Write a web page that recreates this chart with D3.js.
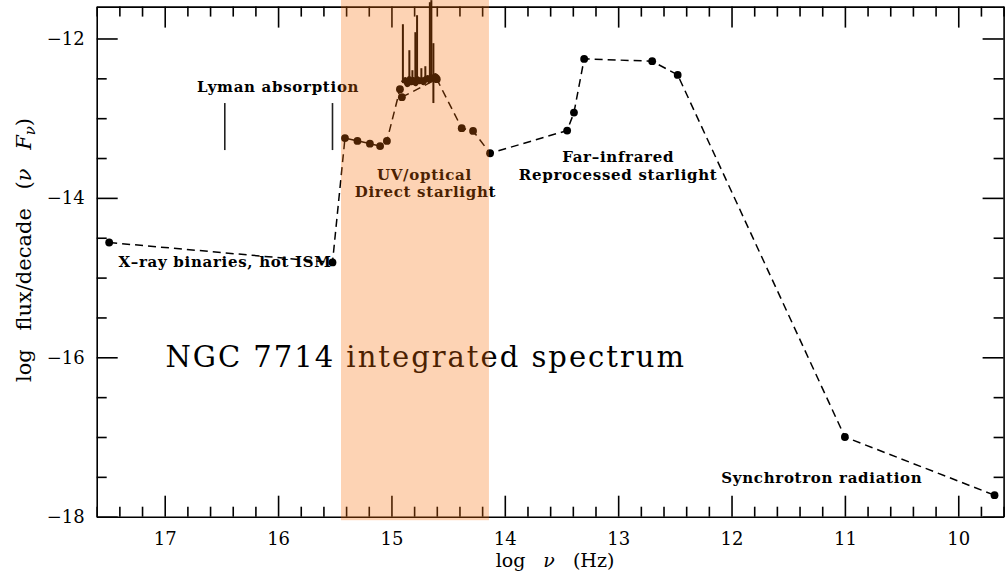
<!DOCTYPE html>
<html>
<head>
<meta charset="utf-8">
<script src="https://cdn.jsdelivr.net/npm/d3@7"></script>
<style>
  html, body { margin: 0; padding: 0; background: #fff; }
  svg { display: block; }
</style>
</head>
<body>
<svg id="chart" width="1006" height="576"></svg>
<script>
// Broad-band SED of NGC 7714: log frequency (Hz) and log flux per decade
const sedLogNu   = [17.49, 15.52, 15.41, 15.30, 15.19, 15.10, 15.04, 14.925, 14.908, 14.60, 14.38, 14.28, 14.13, 13.45, 13.39, 13.30, 12.70, 12.475, 11.00, 9.68];
const sedLogFlux = [-14.56, -14.81, -13.25, -13.285, -13.32, -13.35, -13.285, -12.637, -12.737, -12.51, -13.125, -13.16, -13.44, -13.155, -12.93, -12.256, -12.285, -12.457, -17.00, -17.73];

// Optical spectrum continuum
const specLogNu   = [14.894, 14.877, 14.859, 14.841, 14.824, 14.806, 14.788, 14.771, 14.753, 14.735, 14.718, 14.700, 14.682, 14.665, 14.647, 14.629, 14.612, 14.594];
const specLogFlux = [-12.561, -12.523, -12.573, -12.511, -12.548, -12.523, -12.561, -12.511, -12.536, -12.523, -12.548, -12.511, -12.498, -12.523, -12.486, -12.511, -12.473, -12.498];

// Emission lines in the optical spectrum (low and high end of each line)
const lineLogNu = [14.899, 14.842, 14.815, 14.789, 14.774, 14.736, 14.701, 14.661, 14.648, 14.630];
const lineLow   = [-12.56, -12.53, -12.55, -12.55, -12.53, -12.54, -12.52, -12.52, -12.50, -12.81];
const lineHigh  = [-11.821, -12.147, -12.398, -11.921, -11.708, -12.373, -12.348, -11.545, -11.519, -12.059];

// Lyman absorption markers
const lymanLogNu = [16.47, 15.52];
const lymanTop = -12.81, lymanBottom = -13.40;

// UV/optical band
const bandLogNu = [15.445, 14.14];

// Axis ticks
const xMajor = [17, 16, 15, 14, 13, 12, 11, 10];
const yMajor = [-12, -14, -16, -18];

// Annotations (text, log ν, log flux, anchor)
const annText   = ["Lyman absorption", "X\u2013ray binaries, hot ISM", "UV/optical", "Direct starlight", "Far\u2013infrared", "Reprocessed starlight", "Synchrotron radiation"];
const annLogNu  = [16.0, 17.408, 14.709, 14.70, 13.0, 13.0, 11.203];
const annFlux   = [-12.674, -14.87, -13.775, -13.99, -13.555, -13.77, -17.58];
const annAnchor = ["middle", "start", "middle", "middle", "middle", "middle", "middle"];

const titleText = "NGC 7714 integrated spectrum";
const titleLogNu = 16.994, titleFlux = -16.12;

const svg = d3.select("#chart");

const x = d3.scaleLinear().domain([17.6, 9.6]).range([96.7, 1003.6]);
const y = d3.scaleLinear().domain([-18, -11.6]).range([516.7, 6.6]);

const xMinor = d3.range(17.6, 9.55, -0.2).map(v => +v.toFixed(1)).filter(v => !xMajor.includes(v));
const yMinor = d3.range(-18, -11.55, 0.5).filter(v => !yMajor.includes(v));

const serif = "'DejaVu Serif', serif";

function styleAxis(g) {
  g.selectAll("path.domain").attr("stroke", "#000").attr("stroke-width", 1.6);
  g.selectAll(".tick line").attr("stroke", "#000").attr("stroke-width", 1.6);
  g.selectAll(".tick text").attr("fill", "#000").attr("font-family", serif).attr("font-size", 18);
}

const xRange = x.range(), yRange = y.range();

// bottom axis
svg.append("g").attr("transform", `translate(0,${yRange[0]})`)
  .call(d3.axisBottom(x).tickValues(xMajor).tickSize(-21).tickSizeOuter(0).tickPadding(16).tickFormat(d3.format("d")))
  .call(styleAxis);
svg.append("g").attr("transform", `translate(0,${yRange[0]})`)
  .call(d3.axisBottom(x).tickValues(xMinor).tickSize(-10).tickFormat(""))
  .call(g => g.select(".domain").remove()).call(styleAxis);

// top axis
svg.append("g").attr("transform", `translate(0,${yRange[1]})`)
  .call(d3.axisTop(x).tickValues(xMajor).tickSize(-21).tickSizeOuter(0).tickFormat(""))
  .call(styleAxis);
svg.append("g").attr("transform", `translate(0,${yRange[1]})`)
  .call(d3.axisTop(x).tickValues(xMinor).tickSize(-10).tickFormat(""))
  .call(g => g.select(".domain").remove()).call(styleAxis);

// left axis
svg.append("g").attr("transform", `translate(${xRange[0]},0)`)
  .call(d3.axisLeft(y).tickValues(yMajor).tickSize(-21).tickSizeOuter(0).tickPadding(12).tickFormat(d3.format("d")))
  .call(styleAxis);
svg.append("g").attr("transform", `translate(${xRange[0]},0)`)
  .call(d3.axisLeft(y).tickValues(yMinor).tickSize(-10).tickFormat(""))
  .call(g => g.select(".domain").remove()).call(styleAxis);

// right axis
svg.append("g").attr("transform", `translate(${xRange[1]},0)`)
  .call(d3.axisRight(y).tickValues(yMajor).tickSize(-21).tickSizeOuter(0).tickFormat(""))
  .call(styleAxis);
svg.append("g").attr("transform", `translate(${xRange[1]},0)`)
  .call(d3.axisRight(y).tickValues(yMinor).tickSize(-10).tickFormat(""))
  .call(g => g.select(".domain").remove()).call(styleAxis);

// axis titles
svg.append("text")
  .attr("x", 555).attr("y", 567)
  .attr("text-anchor", "middle")
  .attr("font-family", serif).attr("font-size", 19)
  .style("word-spacing", "12px")
  .html("log <tspan font-style='italic'>\u03bd</tspan> (Hz)");

const yl = svg.append("text")
  .attr("transform", "translate(31,250) rotate(-90)")
  .attr("text-anchor", "middle")
  .attr("font-family", serif).attr("font-size", 21)
  .style("word-spacing", "12px");
yl.append("tspan").text("log flux/decade (");
yl.append("tspan").attr("font-style", "italic").text("\u03bd F");
yl.append("tspan").attr("font-style", "italic").attr("font-size", 15).attr("dy", 4).text("\u03bd");
yl.append("tspan").attr("dy", -4).text(")");

// Lyman absorption markers
svg.append("g").selectAll("line").data(lymanLogNu).join("line")
  .attr("x1", d => x(d)).attr("x2", d => x(d))
  .attr("y1", y(lymanTop)).attr("y2", y(lymanBottom))
  .attr("stroke", "#222").attr("stroke-width", 1.6);

// dashed SED connecting line
const sed = sedLogNu.map((v, i) => [v, sedLogFlux[i]]);
svg.append("path")
  .attr("d", d3.line().x(d => x(d[0])).y(d => y(d[1]))(sed))
  .attr("fill", "none").attr("stroke", "#000").attr("stroke-width", 1.5)
  .attr("stroke-dasharray", "8,5");

// emission lines
svg.append("g").selectAll("line").data(lineLogNu).join("line")
  .attr("x1", d => x(d)).attr("x2", d => x(d))
  .attr("y1", (d, i) => y(lineLow[i])).attr("y2", (d, i) => y(lineHigh[i]))
  .attr("stroke", "#000").attr("stroke-width", 2);

// optical spectrum continuum
const spec = specLogNu.map((v, i) => [v, specLogFlux[i]]);
svg.append("path")
  .attr("d", d3.line().x(d => x(d[0])).y(d => y(d[1]))(spec))
  .attr("fill", "none").attr("stroke", "#000").attr("stroke-width", 6)
  .attr("stroke-linejoin", "round");

// SED points
svg.append("g").selectAll("circle").data(sed).join("circle")
  .attr("cx", d => x(d[0])).attr("cy", d => y(d[1])).attr("r", 3.9)
  .attr("fill", "#000");

// annotations
svg.append("g").selectAll("text").data(annText).join("text")
  .attr("x", (d, i) => x(annLogNu[i])).attr("y", (d, i) => y(annFlux[i]))
  .attr("text-anchor", (d, i) => annAnchor[i])
  .attr("font-family", serif).attr("font-weight", "bold").attr("font-size", 15)
  .attr("letter-spacing", 0.7)
  .attr("fill", "#000")
  .text(d => d);

svg.append("text")
  .attr("x", x(titleLogNu)).attr("y", y(titleFlux))
  .attr("font-family", serif).attr("font-size", 29)
  .attr("letter-spacing", 2.0)
  .attr("fill", "#000")
  .text(titleText);

// translucent UV/optical band laid over everything
svg.append("rect")
  .attr("x", x(bandLogNu[0])).attr("width", x(bandLogNu[1]) - x(bandLogNu[0]))
  .attr("y", 0).attr("height", yRange[0] + 3.5)
  .attr("fill", "rgb(248,110,8)").attr("fill-opacity", 0.3);
</script>
</body>
</html>
